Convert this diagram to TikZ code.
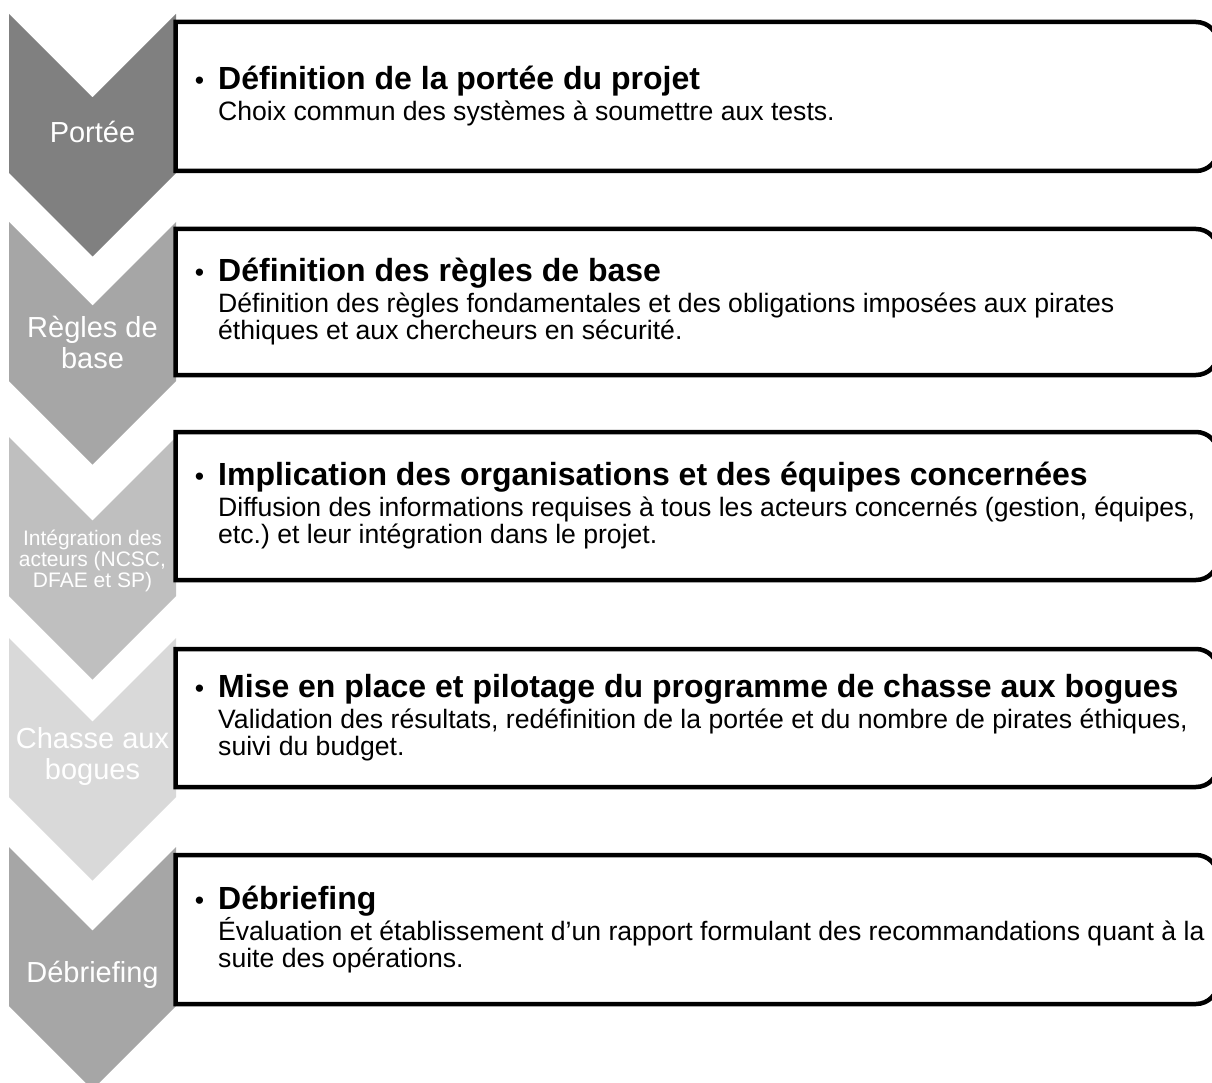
\documentclass[tikz,border=0pt]{standalone}
\usepackage{fontspec}
\setmainfont{Liberation Sans}
\frenchspacing
\definecolor{stepA}{HTML}{808080}
\definecolor{stepB}{HTML}{A6A6A6}
\definecolor{stepC}{HTML}{BFBFBF}
\definecolor{stepD}{HTML}{D9D9D9}
\newcommand{\BODYFONT}{\fontsize{26.6}{27}\selectfont\lineskiplimit=-30pt\relax}
\tikzset{
  chevron/.style={fill=#1, draw=none},
  frame/.style={draw=black, line width=4.5pt, fill=white, line join=miter},
  steplabel/.style={text=white, align=center, inner sep=0pt,
    font=\fontsize{29}{31}\selectfont},
  stepbody/.style={anchor=west, align=left, inner sep=0pt, font=\BODYFONT},
}
% chevron pointing down, top left corner at the scope origin
\newcommand{\CHEVRON}[1]{\fill[chevron=#1] (9pt,0pt) -- (92.5pt,-83.5pt)
  -- (176pt,0pt) -- (176pt,-159pt) -- (92.5pt,-242.5pt) -- (9pt,-159pt) -- cycle;}
% frame open to the right: top and bottom y
\newcommand{\STEPFRAME}[2]{\draw[frame] (175.5pt,#1) -- (1196pt,#1)
  arc[start angle=90, end angle=0, radius=22pt] -- (1218pt,#2+22pt)
  arc[start angle=0, end angle=-90, radius=22pt] -- (175.5pt,#2) -- cycle;}
\newcommand{\STEPTITLE}[1]{\llap{\textbullet\hspace{14pt}}%
  {\fontsize{32}{33}\selectfont\bfseries #1}}

\begin{document}
\begin{tikzpicture}
  \useasboundingbox (0pt,0pt) rectangle (1212pt,-1083pt);

  \begin{scope}[shift={(0pt,-14pt)}]
  \CHEVRON{stepA}
  \STEPFRAME{-8pt}{-157pt}
  \node[steplabel] (lab1) at (92.5pt,-118pt) {Portée};
  \node[stepbody] (txt1) at (218pt,-82.5pt)
  {\STEPTITLE{Définition de la portée du projet}\\[4pt]
   Choix commun des systèmes à soumettre aux tests.};
  \end{scope}

  \begin{scope}[shift={(0pt,-222pt)}]
  \CHEVRON{stepB}
  \STEPFRAME{-7pt}{-153pt}
  \node[steplabel] (lab2) at (92.5pt,-120pt) {Règles de\\base};
  \node[stepbody] (txt2) at (218pt,-80pt)
  {\STEPTITLE{Définition des règles de base}\\[4pt]
   Définition des règles fondamentales et des obligations imposées aux pirates\\
   éthiques et aux chercheurs en sécurité.};
  \end{scope}

  \begin{scope}[shift={(0pt,-437pt)}]
  \CHEVRON{stepC}
  \STEPFRAME{5pt}{-143pt}
  \node[steplabel, font=\fontsize{21}{21}\selectfont] (lab3) at (92.5pt,-124pt)
  {Intégration des\\acteurs (NCSC,\\DFAE et SP)};
  \node[stepbody] (txt3) at (218pt,-69pt)
  {\STEPTITLE{Implication des organisations et des équipes concernées}\\[4pt]
   Diffusion des informations requises à tous les acteurs concernés (gestion, équipes,\\
   etc.) et leur intégration dans le projet.};
  \end{scope}

  \begin{scope}[shift={(0pt,-638pt)}]
  \CHEVRON{stepD}
  \STEPFRAME{-11pt}{-149pt}
  \node[steplabel] (lab4) at (92.5pt,-118pt) {Chasse aux\\bogues};
  \node[stepbody] (txt4) at (218pt,-80pt)
  {\STEPTITLE{Mise en place et pilotage du programme de chasse aux bogues}\\[4pt]
   Validation des résultats, redéfinition de la portée et du nombre de pirates éthiques,\\
   suivi du budget.};
  \end{scope}

  \begin{scope}[shift={(0pt,-847pt)}]
  \CHEVRON{stepB}
  \STEPFRAME{-8pt}{-157pt}
  \node[steplabel] (lab5) at (92.5pt,-128pt) {Débriefing};
  \node[stepbody] (txt5) at (218pt,-82.5pt)
  {\STEPTITLE{Débriefing}\\[4pt]
   Évaluation et établissement d’un rapport formulant des recommandations quant à la\\
   suite des opérations.};
  \end{scope}
\end{tikzpicture}
\end{document}
